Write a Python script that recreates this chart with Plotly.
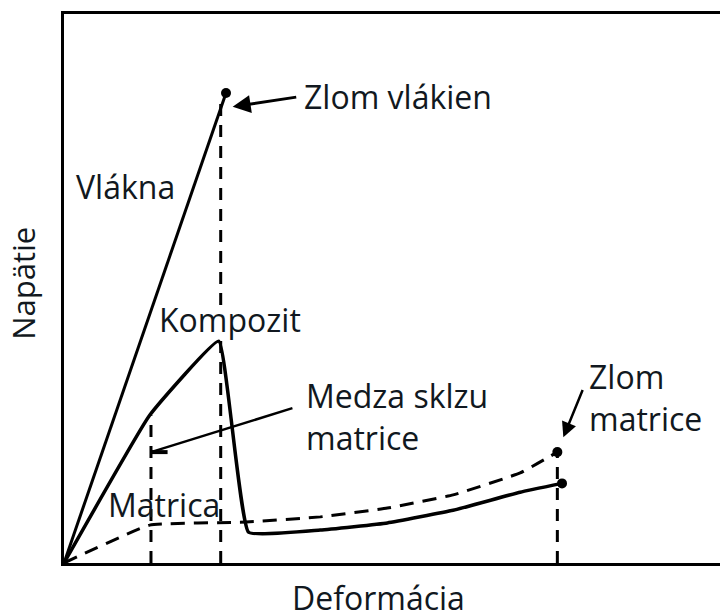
import plotly.graph_objects as go

# ---- data (schematic units: deformation 0-100, stress 0-100) ----
fiber_x = [0, 24.4]
fiber_y = [0, 85.6]

komp_x = [0, 12.9, 23.3, 27.8, 38.6, 48.7, 58.6, 68.7, 75.0]
komp_y = [0, 26.9, 40.4, 5.6, 6.0, 7.3, 9.6, 12.9, 14.5]

matr_x = [0, 12.9, 27.4, 38.6, 48.7, 58.6, 68.7, 74.3]
matr_y = [0, 6.9, 7.45, 8.4, 10.0, 12.4, 16.4, 20.2]

# vertical guide lines
guide_fiber_x = 23.6
guide_fiber_lo = [0, 41.0]
guide_fiber_hi = [47.0, 84.2]
guide_slip_x = 13.1
guide_slip_y = [0, 26.9]
guide_break_x = 74.3
guide_break_y = [0, 20.2]

slip_line_x = [13.1, 34.4]
slip_line_y = [20.2, 28.2]
slip_mark_x = [13.1, 15.6]
slip_mark_y = [20.2, 20.2]

dots_x = [24.4, 74.3, 75.0]
dots_y = [85.6, 20.2, 14.5]

FONT = "Open Sans"
TXT = "#111820"
FS = 32

fig = go.Figure()

dash_style = dict(color="black", width=3, dash="12px,9px")
fig.add_trace(go.Scatter(x=[guide_fiber_x] * 2, y=guide_fiber_lo, mode="lines",
                         line=dash_style, hoverinfo="skip"))
fig.add_trace(go.Scatter(x=[guide_fiber_x] * 2, y=guide_fiber_hi, mode="lines",
                         line=dash_style, hoverinfo="skip"))
fig.add_trace(go.Scatter(x=[guide_slip_x] * 2, y=guide_slip_y, mode="lines",
                         line=dash_style, hoverinfo="skip"))
fig.add_trace(go.Scatter(x=[guide_break_x] * 2, y=guide_break_y, mode="lines",
                         line=dash_style, hoverinfo="skip"))

fig.add_trace(go.Scatter(x=fiber_x, y=fiber_y, mode="lines",
                         line=dict(color="black", width=3)))
fig.add_trace(go.Scatter(x=komp_x, y=komp_y, mode="lines",
                         line=dict(color="black", width=3.5, shape="spline", smoothing=0.3)))
fig.add_trace(go.Scatter(x=matr_x, y=matr_y, mode="lines",
                         line=dict(color="black", width=3, dash="14px,9px", shape="spline", smoothing=0.3)))
fig.add_trace(go.Scatter(x=slip_line_x, y=slip_line_y, mode="lines",
                         line=dict(color="black", width=2.5)))
fig.add_trace(go.Scatter(x=slip_mark_x, y=slip_mark_y, mode="lines",
                         line=dict(color="black", width=4)))
fig.add_trace(go.Scatter(x=dots_x, y=dots_y, mode="markers",
                         marker=dict(color="black", size=10), cliponaxis=False))

ann = []
def txt(x, y, s):
    ann.append(dict(x=x, y=y, xref="x", yref="y", text=s, showarrow=False,
                    xanchor="left", yanchor="middle",
                    font=dict(family=FONT, size=FS, color=TXT)))

txt(1.5, 68.6, "Vlákna")
txt(35.8, 85.0, "Zlom vlákien")
txt(14.0, 44.3, "Kompozit")
txt(36.1, 30.6, "Medza sklzu")
txt(36.1, 22.8, "matrice")
txt(6.3, 10.7, "Matrica")
txt(78.8, 34.0, "Zlom")
txt(78.8, 26.4, "matrice")

ann.append(dict(x=25.4, y=83.1, ax=35.2, ay=84.9, xref="x", yref="y", axref="x", ayref="y",
                text="", showarrow=True, arrowhead=2, arrowsize=1.2, arrowwidth=3, arrowcolor="black"))
ann.append(dict(x=75.2, y=22.9, ax=78.2, ay=31.8, xref="x", yref="y", axref="x", ayref="y",
                text="", showarrow=True, arrowhead=2, arrowsize=1.2, arrowwidth=2.5, arrowcolor="black"))

ann.append(dict(x=-0.062, y=0.51, xref="paper", yref="paper", text="Napätie", showarrow=False,
                textangle=-90, xanchor="center", yanchor="middle",
                font=dict(family=FONT, size=31, color=TXT)))
ann.append(dict(x=0.473, y=-0.062, xref="paper", yref="paper", text="Deformácia", showarrow=False,
                xanchor="center", yanchor="middle",
                font=dict(family=FONT, size=FS, color=TXT)))

fig.update_layout(
    width=720, height=604,
    margin=dict(l=56, r=0, t=6, b=49),
    paper_bgcolor="white", plot_bgcolor="white",
    showlegend=False,
    annotations=ann,
    xaxis=dict(range=[0, 100], showgrid=False, zeroline=False, showticklabels=False, ticks="",
               showline=True, linecolor="black", linewidth=3, mirror=True),
    yaxis=dict(range=[0, 100], showgrid=False, zeroline=False, showticklabels=False, ticks="",
               showline=True, linecolor="black", linewidth=3),
)

fig.write_html("out.html")
